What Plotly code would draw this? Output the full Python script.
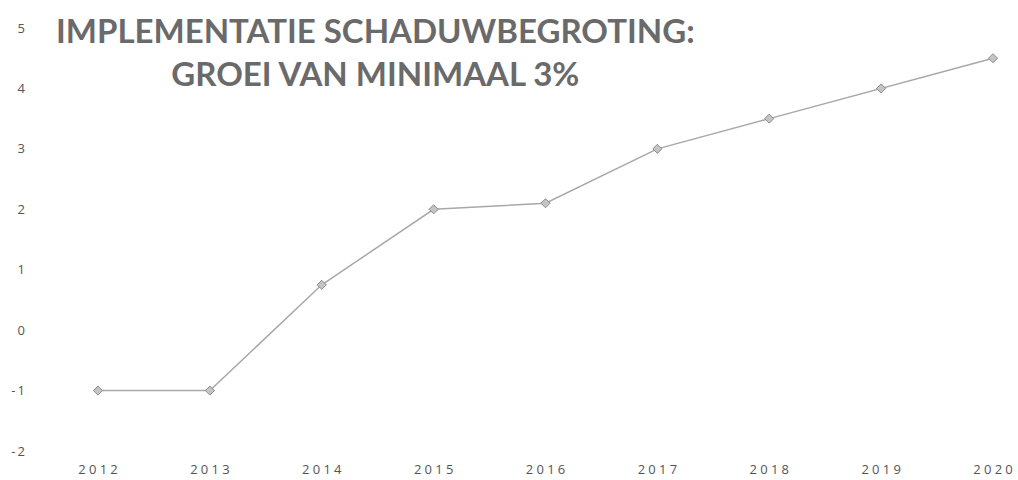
import plotly.graph_objects as go

years = [2012, 2013, 2014, 2015, 2016, 2017, 2018, 2019, 2020]
values = [-1.0, -1.0, 0.75, 2.0, 2.1, 3.0, 3.5, 4.0, 4.5]
y_ticks = [-2, -1, 0, 1, 2, 3, 4, 5]
title_lines = ["IMPLEMENTATIE SCHADUWBEGROTING:", "GROEI VAN MINIMAAL 3%"]

SP = "\u2005"
x_text = [SP.join(str(y)) for y in years]
y_text = [("-\u2006" + str(abs(v))) if v < 0 else str(v) for v in y_ticks]

fig = go.Figure()
fig.add_trace(go.Scatter(
    x=years, y=values, mode="lines+markers",
    line=dict(color="#a8a8a8", width=1.5),
    marker=dict(symbol="diamond", size=7, color="#c4c4c4",
                line=dict(color="#8c8c8c", width=1)),
    showlegend=False,
))

fig.add_annotation(
    text="<br>".join(title_lines), xref="paper", yref="paper",
    x=0.3564, y=0.9067, xanchor="center", yanchor="middle", showarrow=False,
    align="center",
    font=dict(family="Lato", size=33, color="#6a6a6a", weight="bold"),
)

fig.update_layout(
    width=1018, height=480,
    margin=dict(l=26, r=10, t=10, b=20),
    paper_bgcolor="white", plot_bgcolor="white",
    font=dict(family="Open Sans", size=13, color="#555555"),
    xaxis=dict(range=[2011.3564, 2020.134], tickvals=years, ticktext=x_text,
               showgrid=False, zeroline=False, showline=False, ticks="",
               automargin=False),
    yaxis=dict(range=[-2.149, 5.298], tickvals=y_ticks, ticktext=y_text,
               showgrid=False, zeroline=False, showline=False, ticks="",
               automargin=False),
)

fig.write_html(
    "out.html",
    config={"displayModeBar": False},
    post_script="document.body.style.margin='0';document.body.style.overflow='hidden';",
)
